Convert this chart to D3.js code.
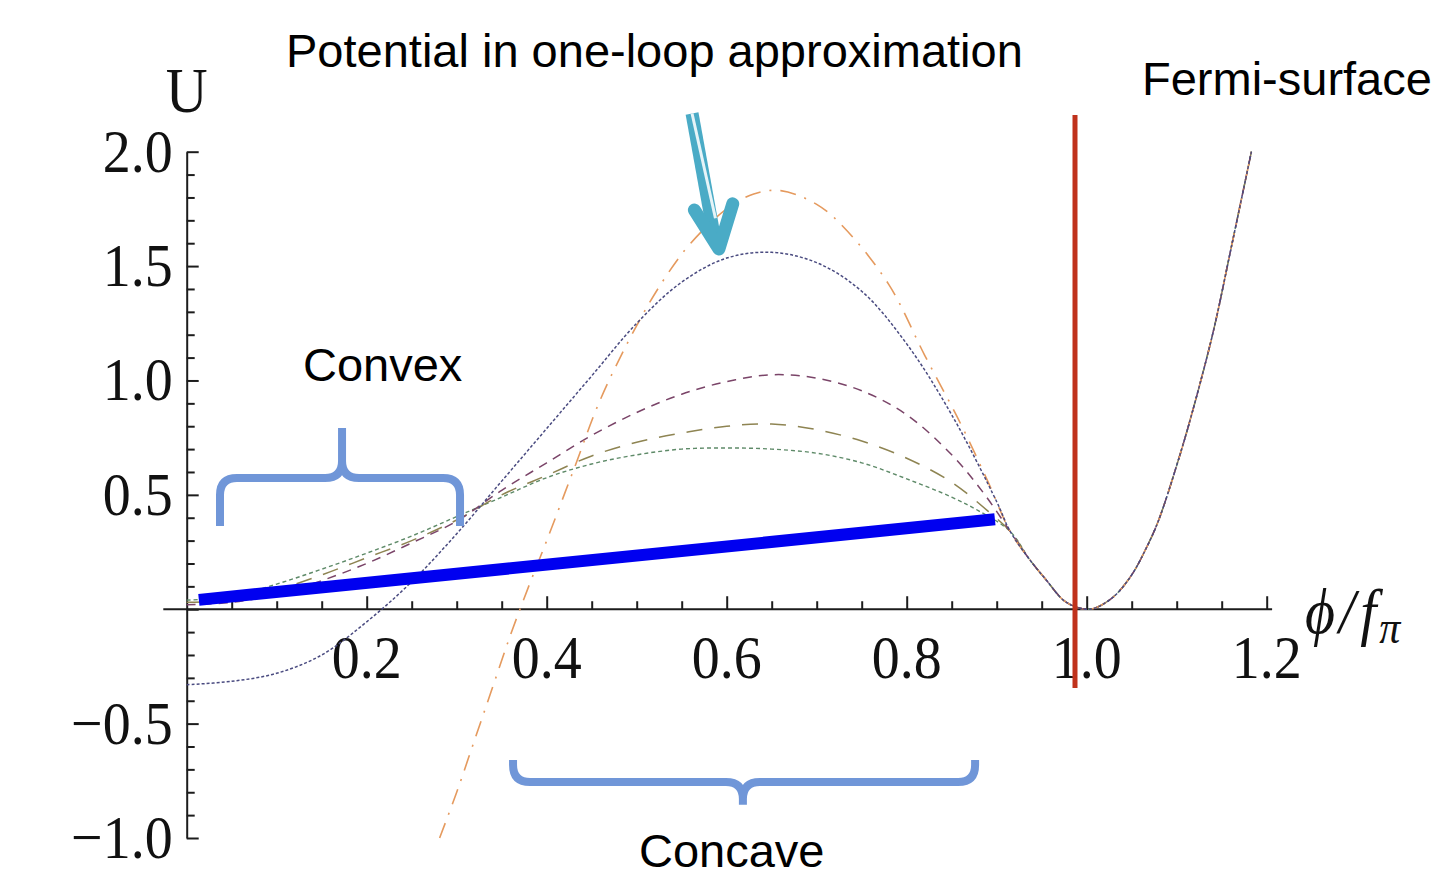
<!DOCTYPE html>
<html><head><meta charset="utf-8">
<script src="https://cdn.jsdelivr.net/npm/d3@7"></script>
<style>body{margin:0;background:#fff;} svg{display:block;}</style>
</head><body>
<svg id="c" width="1432" height="878"></svg>
<script>
// ---------------- data ----------------
const xTickValues = [0.2, 0.4, 0.6, 0.8, 1.0, 1.2];
const xTickLabels = ["0.2", "0.4", "0.6", "0.8", "1.0", "1.2"];
const yTickValues = [2.0, 1.5, 1.0, 0.5, -0.5, -1.0];
const yTickLabels = ["2.0", "1.5", "1.0", "0.5", "\u22120.5", "\u22121.0"];

// common branch of all curves (right of the merge point)
const tailX = [0.937, 0.955, 0.974, 0.988, 1.0, 1.01, 1.03, 1.05, 1.067, 1.08, 1.104, 1.12, 1.141, 1.16, 1.183];
const tailU = [0.215, 0.128, 0.04, 0.01, 0.0, 0.006, 0.055, 0.15, 0.274, 0.39, 0.68, 0.9, 1.22, 1.57, 2.0];

// one-loop potential (dotted)
const xA = [0, 0.05, 0.1, 0.15, 0.2, 0.25, 0.3, 0.35, 0.4, 0.45, 0.5, 0.55, 0.6, 0.65, 0.7, 0.75, 0.8, 0.85, 0.9, 0.915];
const uA = [-0.33, -0.315, -0.28, -0.2, -0.055, 0.12, 0.33, 0.56, 0.79, 1.02, 1.25, 1.43, 1.535, 1.56, 1.515, 1.39, 1.16, 0.85, 0.47, 0.34];
// orange dash-dot
const xB = [0.281, 0.3, 0.32, 0.34, 0.36, 0.38, 0.4, 0.43, 0.46, 0.5, 0.53, 0.56, 0.6, 0.63, 0.66, 0.7, 0.73, 0.78, 0.82, 0.86, 0.89, 0.915];
const uB = [-1.0, -0.8, -0.57, -0.34, -0.11, 0.1, 0.3, 0.61, 0.92, 1.24, 1.44, 1.6, 1.75, 1.815, 1.83, 1.77, 1.67, 1.42, 1.11, 0.81, 0.56, 0.34];
// purple dashes
const xC = [0, 0.05, 0.1, 0.15, 0.2, 0.25, 0.3, 0.35, 0.4, 0.45, 0.5, 0.55, 0.6, 0.65, 0.7, 0.75, 0.8, 0.85, 0.885, 0.915];
const uC = [0.02, 0.03, 0.065, 0.125, 0.2, 0.29, 0.385, 0.52, 0.64, 0.76, 0.86, 0.94, 0.995, 1.025, 1.01, 0.955, 0.85, 0.675, 0.51, 0.34];
// olive long dashes
const xD = [0, 0.05, 0.1, 0.15, 0.2, 0.25, 0.3, 0.35, 0.4, 0.45, 0.5, 0.55, 0.6, 0.65, 0.7, 0.75, 0.8, 0.85, 0.89, 0.915];
const uD = [0.03, 0.04, 0.085, 0.15, 0.225, 0.3, 0.39, 0.5, 0.585, 0.67, 0.73, 0.77, 0.8, 0.81, 0.785, 0.735, 0.66, 0.555, 0.43, 0.34];
// green short dashes
const xE = [0, 0.05, 0.1, 0.15, 0.2, 0.25, 0.3, 0.35, 0.4, 0.45, 0.5, 0.55, 0.6, 0.65, 0.7, 0.75, 0.8, 0.85, 0.88, 0.915];
const uE = [0.04, 0.055, 0.11, 0.175, 0.245, 0.32, 0.405, 0.49, 0.575, 0.635, 0.675, 0.7, 0.705, 0.7, 0.682, 0.64, 0.57, 0.49, 0.43, 0.34];

// annotation anchors (data units)
const fermiX = 0.987, fermiY = [2.16, -0.344];
const chordX = [0.0135, 0.898], chordU = [0.041, 0.393];
const arrowShaftX = [0.5615, 0.5875], arrowShaftU = [2.167, 1.60];
const arrowHeadX = [0.5641, 0.5914, 0.6067], arrowHeadU = [1.745, 1.575, 1.772];
const convexBrace = {x0: 0.037, x1: 0.3037, xc: 0.1726, bar: 0.574, ends: 0.364, tip: 0.792};
const concaveBrace = {x0: 0.3626, x1: 0.876, xc: 0.618, bar: -0.755, ends: -0.659, tip: -0.855};

// ---------------- scales ----------------
const svg = d3.select("#c");
const x = d3.scaleLinear().domain([0, 1.2]).range([186.7, 1266.7]);
const y = d3.scaleLinear().domain([-1, 2]).range([838, 151.7]);

const serif = "'Liberation Serif','Times New Roman',serif";
const sans = "'Liberation Sans',Arial,Helvetica,sans-serif";
const axisColor = "#1c1c1c";

// ---------------- axes ----------------
const yMinorVals = d3.range(-10, 21).filter(v => v % 5 !== 0).map(v => v / 10);
const yMajorVals = d3.range(-10, 21, 5).map(v => v / 10);
const gy = svg.append("g").attr("transform", `translate(${x(0)},0)`);
gy.call(d3.axisLeft(y).tickValues(yMajorVals).tickSizeInner(-12).tickSizeOuter(0).tickFormat(""));
gy.call(g => g.append("g").call(d3.axisLeft(y).tickValues(yMinorVals).tickSizeInner(-8).tickSizeOuter(0).tickFormat("")).select(".domain").remove());
gy.selectAll("path,line").attr("stroke", axisColor).attr("stroke-width", 2);

const xMinorVals = d3.range(1, 24).filter(v => v % 4 !== 0).map(v => v / 20);
const gx = svg.append("g").attr("transform", `translate(0,${y(0)})`);
gx.call(d3.axisBottom(x).tickValues(xTickValues).tickSizeInner(-13).tickSizeOuter(0).tickFormat(""));
gx.select(".domain").remove();
gx.call(g => g.append("g").call(d3.axisBottom(x).tickValues(xMinorVals).tickSizeInner(-8).tickSizeOuter(0).tickFormat("")).select(".domain").remove());
gx.append("line").attr("x1", x(-0.026)).attr("x2", x(1.206)).attr("y1", 0).attr("y2", 0);
gx.selectAll("path,line").attr("stroke", axisColor).attr("stroke-width", 2);

// tick labels (serif, slightly tall like the original)
yTickValues.forEach((v, i) => {
  svg.append("text").attr("transform", `translate(${x(0) - 14},${y(v) + 20}) scale(1,1.1)`)
    .attr("text-anchor", "end").attr("font-family", serif).attr("font-size", 56).attr("fill", "#111")
    .text(yTickLabels[i]);
});
xTickValues.forEach((v, i) => {
  svg.append("text").attr("transform", `translate(${x(v)},${y(0) + 69}) scale(1,1.1)`)
    .attr("text-anchor", "middle").attr("font-family", serif).attr("font-size", 56).attr("fill", "#111")
    .text(xTickLabels[i]);
});
svg.append("text").attr("transform", `translate(${x(0)},112) scale(1,1.1)`)
  .attr("text-anchor", "middle").attr("font-family", serif).attr("font-size", 58).attr("fill", "#111").text("U");
const xl = svg.append("text").attr("transform", `translate(1305,633) scale(1,1.1)`)
  .attr("font-family", serif).attr("font-style", "italic").attr("font-size", 58).attr("fill", "#111");
xl.append("tspan").text("\u03D5");
xl.append("tspan").attr("dx", 4).text("/");
xl.append("tspan").attr("dx", 5).text("f");
xl.append("tspan").attr("font-size", 42).attr("dx", 3).attr("dy", 9).text("\u03C0");

// ---------------- curves ----------------
const line = d3.line().x(d => x(d[0])).y(d => y(d[1])).curve(d3.curveCatmullRom.alpha(0.5));
const series = [
  {xs: xE, us: uE, color: "#5e8a68", dash: "4,3", w: 1.4},
  {xs: xD, us: uD, color: "#8e8452", dash: "16,12", w: 1.5},
  {xs: xC, us: uC, color: "#7a4468", dash: "9,7", w: 1.5},
  {xs: xB, us: uB, color: "#e59a5e", dash: "16,9,2,9", w: 1.6},
  {xs: xA, us: uA, color: "#4a4b80", dash: "3,2", w: 1.5}
];
series.forEach(s => {
  const pts = s.xs.map((v, i) => [v, s.us[i]]).concat(tailX.map((v, i) => [v, tailU[i]]));
  svg.append("path").attr("d", line(pts)).attr("fill", "none")
    .attr("stroke", s.color).attr("stroke-width", s.w).attr("stroke-dasharray", s.dash);
});

// ---------------- annotations ----------------
// straight chord
svg.append("line").attr("x1", x(chordX[0])).attr("y1", y(chordU[0])).attr("x2", x(chordX[1])).attr("y2", y(chordU[1]))
  .attr("stroke", "#0000f0").attr("stroke-width", 12);

// Fermi-surface line
svg.append("line").attr("x1", x(fermiX)).attr("x2", x(fermiX)).attr("y1", y(fermiY[0])).attr("y2", y(fermiY[1]))
  .attr("stroke", "#c0321c").attr("stroke-width", 5);

// braces
function brace(b, dir) {
  const r = 17;
  const L = x(b.x0), R = x(b.x1), C = x(b.xc), Y = y(b.bar), E = y(b.ends), T = y(b.tip);
  const s = dir; // -1: tip up, +1: tip down
  const p = d3.path();
  p.moveTo(L, E);
  p.lineTo(L, Y - s * r);
  p.quadraticCurveTo(L, Y, L + r, Y);
  p.lineTo(C - r, Y);
  p.quadraticCurveTo(C, Y, C, Y + s * r);
  p.lineTo(C, T);
  p.moveTo(C, Y + s * r);
  p.quadraticCurveTo(C, Y, C + r, Y);
  p.lineTo(R - r, Y);
  p.quadraticCurveTo(R, Y, R, Y - s * r);
  p.lineTo(R, E);
  svg.append("path").attr("d", p.toString()).attr("fill", "none").attr("stroke", "#7096d8")
    .attr("stroke-width", 8).attr("stroke-linejoin", "round");
}
brace(convexBrace, -1);
brace(concaveBrace, 1);

// arrow
const teal = "#4aabc6";
svg.append("line").attr("x1", x(arrowShaftX[0])).attr("y1", y(arrowShaftU[0])).attr("x2", x(arrowShaftX[1])).attr("y2", y(arrowShaftU[1]))
  .attr("stroke", teal).attr("stroke-width", 13);
svg.append("line").attr("x1", x(arrowShaftX[0])).attr("y1", y(arrowShaftU[0])).attr("x2", x(arrowShaftX[1])).attr("y2", y(arrowShaftU[1]) - 25)
  .attr("stroke", "#e6f4f8").attr("stroke-width", 3);
svg.append("path").attr("d", d3.line()(arrowHeadX.map((v, i) => [x(v), y(arrowHeadU[i])])))
  .attr("fill", "none").attr("stroke", teal).attr("stroke-width", 13)
  .attr("stroke-linecap", "round").attr("stroke-linejoin", "round");

// texts
const txt = (t, px, py) => svg.append("text").attr("x", px).attr("y", py).attr("font-family", sans)
  .attr("font-size", 47).attr("fill", "#000").text(t);
txt("Potential in one-loop approximation", 286, 67);
txt("Fermi-surface", 1142, 95);
txt("Convex", 303, 381);
txt("Concave", 639, 867);
</script>
</body></html>
